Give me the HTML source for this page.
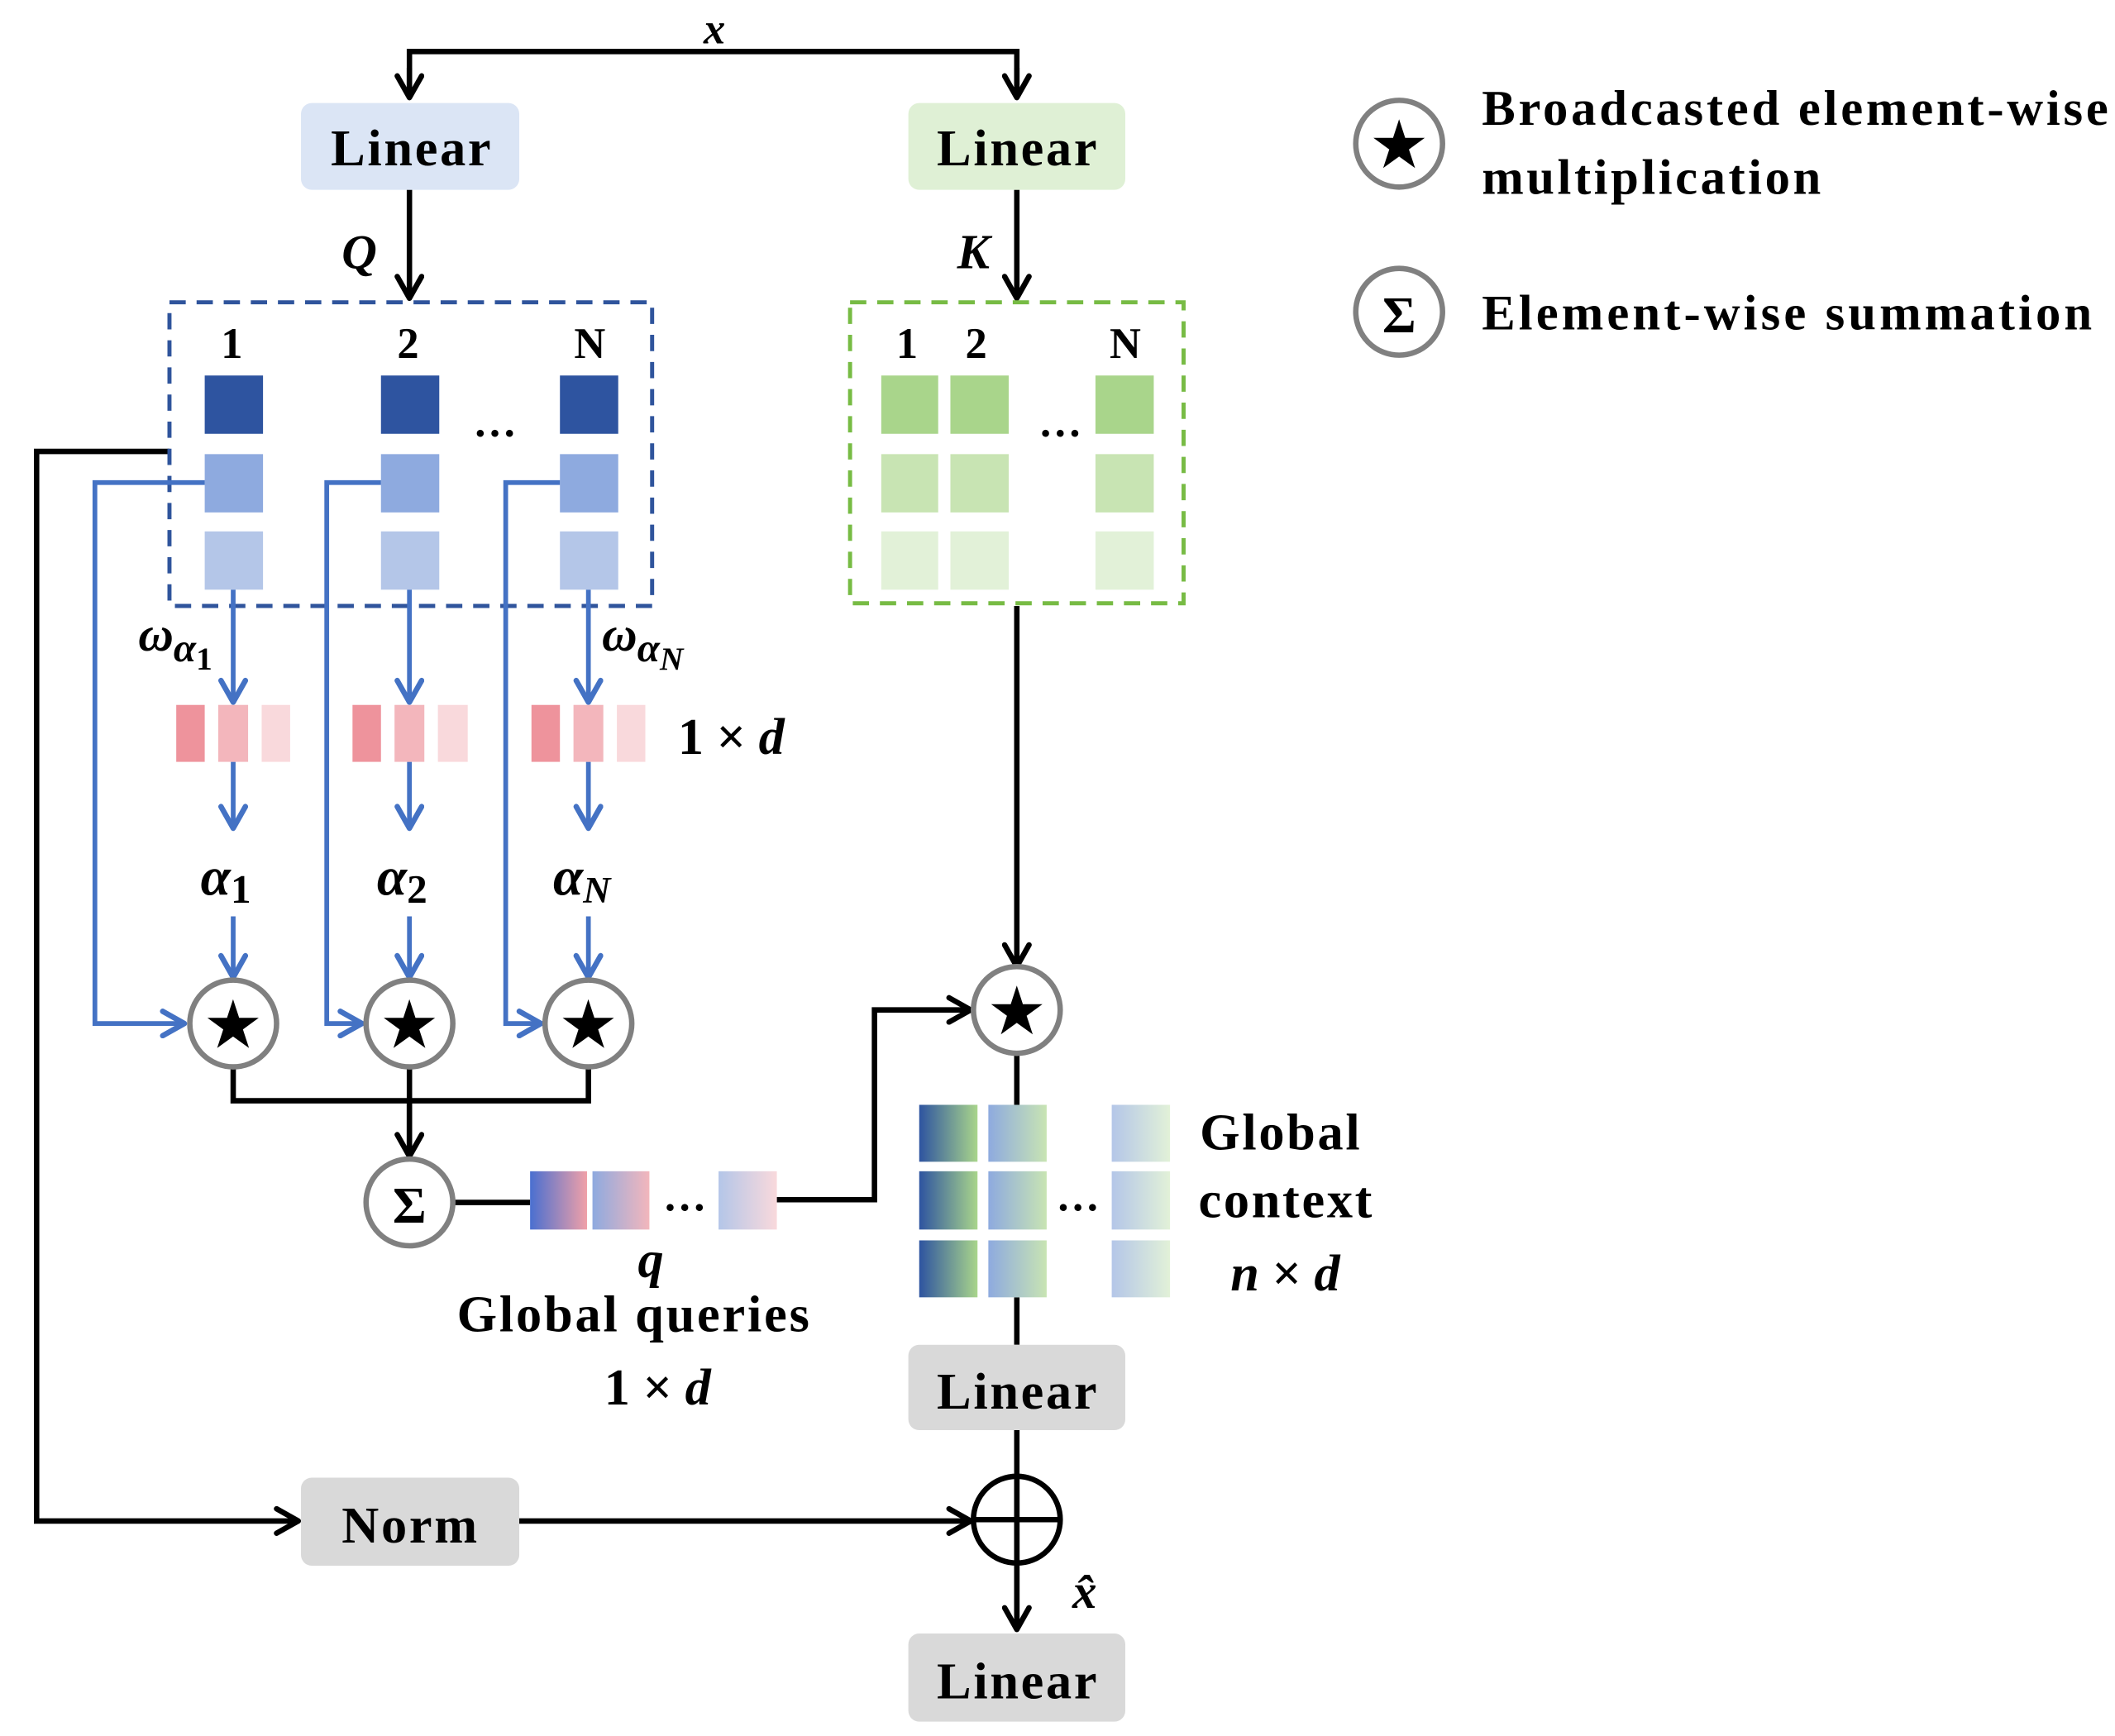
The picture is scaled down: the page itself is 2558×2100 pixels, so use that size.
<!DOCTYPE html>
<html><head><meta charset="utf-8"><style>html,body{margin:0;padding:0;background:#fff}svg{display:block}
text{font-family:"Liberation Serif",serif;font-weight:bold;fill:#000}</style></head><body>
<svg width="2558" height="2100" viewBox="0 0 1560 1280.6" preserveAspectRatio="none" xmlns="http://www.w3.org/2000/svg">
<defs>
<marker id="ak" markerWidth="22" markerHeight="22" refX="19" refY="11" orient="auto" markerUnits="userSpaceOnUse"><path d="M3,2 L19,11 L3,20" fill="none" stroke="#000" stroke-width="4" stroke-linecap="round" stroke-linejoin="round"/></marker>
<marker id="au" markerWidth="22" markerHeight="22" refX="19" refY="11" orient="auto" markerUnits="userSpaceOnUse"><path d="M3,2 L19,11 L3,20" fill="none" stroke="#4472c4" stroke-width="4" stroke-linecap="round" stroke-linejoin="round"/></marker>
<linearGradient id="g1"><stop offset="0" stop-color="#2e54a0"/><stop offset="1" stop-color="#a9d58b"/></linearGradient>
<linearGradient id="g2"><stop offset="0" stop-color="#8eaadf"/><stop offset="1" stop-color="#c8e4b3"/></linearGradient>
<linearGradient id="g3"><stop offset="0" stop-color="#b4c6e8"/><stop offset="1" stop-color="#e2f1d8"/></linearGradient>
<linearGradient id="q1"><stop offset="0" stop-color="#4a6fd0"/><stop offset="1" stop-color="#f0a0a8"/></linearGradient>
<linearGradient id="q2"><stop offset="0" stop-color="#8eaadf"/><stop offset="1" stop-color="#f3b6bc"/></linearGradient>
<linearGradient id="q3"><stop offset="0" stop-color="#b4c6e8"/><stop offset="1" stop-color="#f9d9dc"/></linearGradient>
</defs>
<g fill="none" stroke="#000" stroke-width="4">
<path d="M302,72 V38 H750 V72" />
<path d="M302,50 V72" marker-end="url(#ak)"/><path d="M750,50 V72" marker-end="url(#ak)"/>
<path d="M302,140 V220" marker-end="url(#ak)"/>
<path d="M750,140 V220" marker-end="url(#ak)"/>
<path d="M125,333 H27 V1122 H220" marker-end="url(#ak)"/>
<path d="M750,447 V713" marker-end="url(#ak)"/>
<path d="M172,787 V812 H434 V787 M302,787 V853" />
<path d="M302,812 V853" marker-end="url(#ak)"/>
<path d="M335,887 H391 M573,885 H645 V745 H716" marker-end="url(#ak)"/>
<path d="M750,777 V815 M750,957 V992 M750,1055 V1200" />
<path d="M750,1150 V1202" marker-end="url(#ak)"/>
<path d="M383,1122 H716" marker-end="url(#ak)"/>
</g>
<text x="527" y="32" font-size="32" font-style="italic" text-anchor="middle">x</text>
<rect x="222" y="76" width="161" height="64" rx="8" fill="#dbe5f5"/>
<rect x="670" y="76" width="160" height="64" rx="8" fill="#dff0d5"/>
<text x="303" y="122" font-size="38" text-anchor="middle" textLength="118">Linear</text>
<text x="750" y="122" font-size="38" text-anchor="middle" textLength="118">Linear</text>
<text x="265" y="198" font-size="36" font-style="italic" text-anchor="middle">Q</text>
<text x="718" y="198" font-size="36" font-style="italic" text-anchor="middle">K</text>
<rect x="125" y="223" width="356" height="224" fill="none" stroke="#2f549c" stroke-width="3" stroke-dasharray="12,8"/>
<g font-size="32" text-anchor="middle"><text x="171" y="264">1</text><text x="301" y="264">2</text><text x="435" y="264">N</text>
<text x="669" y="264">1</text><text x="720" y="264">2</text><text x="830" y="264">N</text></g>
<g>
<rect x="151" y="277" width="43" height="43" fill="#2e54a0"/><rect x="281" y="277" width="43" height="43" fill="#2e54a0"/><rect x="413" y="277" width="43" height="43" fill="#2e54a0"/>
<rect x="151" y="335" width="43" height="43" fill="#8eaadf"/><rect x="281" y="335" width="43" height="43" fill="#8eaadf"/><rect x="413" y="335" width="43" height="43" fill="#8eaadf"/>
<rect x="151" y="392" width="43" height="43" fill="#b4c6e8"/><rect x="281" y="392" width="43" height="43" fill="#b4c6e8"/><rect x="413" y="392" width="43" height="43" fill="#b4c6e8"/>
</g>
<text x="365" y="322" font-size="32" text-anchor="middle">…</text>
<rect x="627" y="223" width="246" height="222" fill="none" stroke="#77bb44" stroke-width="3" stroke-dasharray="12,8"/>
<g>
<rect x="650" y="277" width="42" height="43" fill="#a9d58b"/><rect x="701" y="277" width="43" height="43" fill="#a9d58b"/><rect x="808" y="277" width="43" height="43" fill="#a9d58b"/>
<rect x="650" y="335" width="42" height="43" fill="#c8e4b3"/><rect x="701" y="335" width="43" height="43" fill="#c8e4b3"/><rect x="808" y="335" width="43" height="43" fill="#c8e4b3"/>
<rect x="650" y="392" width="42" height="43" fill="#e2f1d8"/><rect x="701" y="392" width="43" height="43" fill="#e2f1d8"/><rect x="808" y="392" width="43" height="43" fill="#e2f1d8"/>
</g>
<text x="782" y="322" font-size="32" text-anchor="middle">…</text>
<g fill="none" stroke="#4472c4" stroke-width="3.5">
<path d="M151,356 H70 V755 H136" marker-end="url(#au)"/>
<path d="M281,356 H241 V755 H267" marker-end="url(#au)"/>
<path d="M413,356 H373 V755 H399" marker-end="url(#au)"/>
<path d="M172,435 V518" marker-end="url(#au)"/><path d="M302,435 V518" marker-end="url(#au)"/><path d="M434,435 V518" marker-end="url(#au)"/>
<path d="M172,562 V611" marker-end="url(#au)"/><path d="M302,562 V611" marker-end="url(#au)"/><path d="M434,562 V611" marker-end="url(#au)"/>
<path d="M172,676 V721" marker-end="url(#au)"/><path d="M302,676 V721" marker-end="url(#au)"/><path d="M434,676 V721" marker-end="url(#au)"/>
</g>
<g>
<rect x="130" y="520" width="21" height="42" fill="#ee939c"/><rect x="161" y="520" width="22" height="42" fill="#f3b6bc"/><rect x="193" y="520" width="21" height="42" fill="#f9d9dc"/>
<rect x="260" y="520" width="21" height="42" fill="#ee939c"/><rect x="291" y="520" width="22" height="42" fill="#f3b6bc"/><rect x="323" y="520" width="22" height="42" fill="#f9d9dc"/>
<rect x="392" y="520" width="21" height="42" fill="#ee939c"/><rect x="423" y="520" width="22" height="42" fill="#f3b6bc"/><rect x="455" y="520" width="21" height="42" fill="#f9d9dc"/>
</g>
<text x="102" y="480" font-size="36" font-style="italic">ω<tspan font-size="30" dy="8">α</tspan><tspan font-size="24" dy="6" font-style="normal">1</tspan></text>
<text x="444" y="480" font-size="36" font-style="italic">ω<tspan font-size="30" dy="8">α</tspan><tspan font-size="24" dy="6">N</tspan></text>
<text x="500" y="556" font-size="38">1 × <tspan font-style="italic">d</tspan></text>
<text x="148" y="660" font-size="40" font-style="italic">α<tspan font-size="30" dy="6" font-style="normal">1</tspan></text>
<text x="278" y="660" font-size="40" font-style="italic">α<tspan font-size="30" dy="6" font-style="normal">2</tspan></text>
<text x="408" y="660" font-size="40" font-style="italic">α<tspan font-size="28" dy="6">N</tspan></text>
<g fill="#fff" stroke="#808080" stroke-width="4">
<circle cx="172" cy="755" r="32"/><circle cx="302" cy="755" r="32"/><circle cx="434" cy="755" r="32"/><circle cx="750" cy="745" r="32"/>
<circle cx="302" cy="887" r="32"/><circle cx="1032" cy="106" r="32"/><circle cx="1032" cy="230" r="32"/>
</g>
<g font-size="44" text-anchor="middle" style="font-family:'DejaVu Sans',sans-serif">
<text x="172" y="771">★</text><text x="302" y="771">★</text><text x="434" y="771">★</text><text x="750" y="761">★</text><text x="1032" y="122">★</text>
</g>
<text x="302" y="902" font-size="38" text-anchor="middle">Σ</text>
<text x="1032" y="245" font-size="38" text-anchor="middle">Σ</text>
<rect x="391" y="864" width="42" height="43" fill="url(#q1)"/><rect x="437" y="864" width="42" height="43" fill="url(#q2)"/><rect x="530" y="864" width="43" height="43" fill="url(#q3)"/>
<text x="505" y="893" font-size="32" text-anchor="middle">…</text>
<text x="480" y="942" font-size="38" font-style="italic" text-anchor="middle">q</text>
<text x="467" y="982" font-size="38" text-anchor="middle" textLength="260">Global queries</text>
<text x="485" y="1036" font-size="38" text-anchor="middle">1 × <tspan font-style="italic">d</tspan></text>
<g>
<rect x="678" y="815" width="43" height="42" fill="url(#g1)"/><rect x="729" y="815" width="43" height="42" fill="url(#g2)"/><rect x="820" y="815" width="43" height="42" fill="url(#g3)"/>
<rect x="678" y="864" width="43" height="43" fill="url(#g1)"/><rect x="729" y="864" width="43" height="43" fill="url(#g2)"/><rect x="820" y="864" width="43" height="43" fill="url(#g3)"/>
<rect x="678" y="915" width="43" height="42" fill="url(#g1)"/><rect x="729" y="915" width="43" height="42" fill="url(#g2)"/><rect x="820" y="915" width="43" height="42" fill="url(#g3)"/>
</g>
<text x="795" y="893" font-size="32" text-anchor="middle">…</text>
<text x="944" y="848" font-size="38" text-anchor="middle" textLength="118">Global</text>
<text x="948" y="898" font-size="38" text-anchor="middle" textLength="128">context</text>
<text x="948" y="952" font-size="38" font-style="italic" text-anchor="middle">n <tspan font-style="normal">×</tspan> d</text>
<rect x="670" y="992" width="160" height="63" rx="8" fill="#d9d9d9"/>
<text x="750" y="1039" font-size="38" text-anchor="middle" textLength="118">Linear</text>
<rect x="222" y="1090" width="161" height="65" rx="8" fill="#d9d9d9"/>
<text x="302" y="1138" font-size="38" text-anchor="middle" textLength="100">Norm</text>
<circle cx="750" cy="1121" r="32" fill="none" stroke="#000" stroke-width="4"/>
<path d="M718,1121 H782 M750,1089 V1153" stroke="#000" stroke-width="4"/>
<text x="800" y="1186" font-size="36" font-style="italic" text-anchor="middle">x̂</text>
<rect x="670" y="1205" width="160" height="65" rx="8" fill="#d9d9d9"/>
<text x="750" y="1253" font-size="38" text-anchor="middle" textLength="118">Linear</text>
<text x="1093" y="92" font-size="37" textLength="462">Broadcasted element-wise</text>
<text x="1093" y="143" font-size="37" textLength="250">multiplication</text>
<text x="1093" y="243" font-size="37" textLength="450">Element-wise summation</text>
</svg>
</body></html>
